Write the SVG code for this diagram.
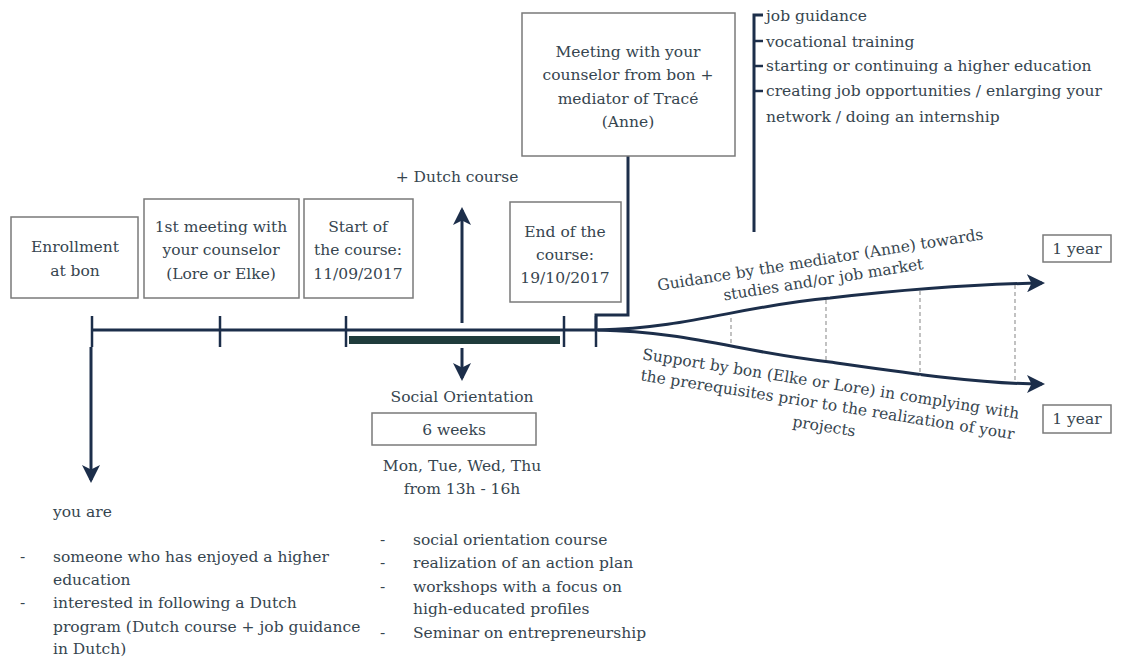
<svg xmlns="http://www.w3.org/2000/svg" width="1126" height="660" viewBox="0 0 1126 660">
<defs>
<style>
text{font-family:"DejaVu Serif","Liberation Serif",serif;font-size:15.5px;fill:#36454f}
.c{text-anchor:middle}
.box{fill:#fff;stroke:#7a7a7a;stroke-width:1.5}
.ln{fill:none;stroke:#1c2e4a;stroke-width:3}
.tk{stroke:#1c2e4a;stroke-width:2.5}
.dash{fill:none;stroke:#999;stroke-width:1.2;stroke-dasharray:4 3}
</style>
<marker id="ah" viewBox="0 0 12 12" refX="10" refY="6" markerWidth="6" markerHeight="6" orient="auto" markerUnits="strokeWidth">
<path d="M0,0 L12,6 L0,12 L3,6 Z" fill="#1c2e4a"/>
</marker>
</defs>
<rect width="1126" height="660" fill="#fff"/>

<g id="connectors">
<line class="ln" x1="92" y1="330" x2="598" y2="330"/>
<line class="tk" x1="92" y1="316" x2="92" y2="347"/>
<line class="tk" x1="220" y1="316" x2="220" y2="347"/>
<line class="tk" x1="346" y1="316" x2="346" y2="347"/>
<line class="tk" x1="564" y1="316" x2="564" y2="347"/>
<line class="tk" x1="596" y1="316" x2="596" y2="347"/>
<rect x="349" y="336" width="211" height="8" fill="#1f3c3c"/>
<line class="ln" x1="462" y1="323" x2="462" y2="210" marker-end="url(#ah)"/>
<line class="ln" x1="462" y1="348" x2="462" y2="378" marker-end="url(#ah)"/>
<line class="ln" x1="91" y1="347" x2="91" y2="480" marker-end="url(#ah)"/>
<path class="ln" d="M628 156 V315 H596 V330"/>
<path class="ln" d="M598 330 C690 328 740 306 830 298 C900 290 980 284 1042 283" marker-end="url(#ah)"/>
<path class="ln" d="M598 330 C690 332 740 352 830 362 C900 372 980 384 1042 384" marker-end="url(#ah)"/>
<line class="dash" x1="731" y1="318" x2="731" y2="343"/>
<line class="dash" x1="826" y1="300" x2="826" y2="360"/>
<line class="dash" x1="920" y1="291" x2="920" y2="376"/>
<line class="dash" x1="1015" y1="285" x2="1015" y2="383"/>
<path class="ln" d="M754 232 V15 H763"/>
<line class="tk" x1="754" y1="41" x2="763" y2="41"/>
<line class="tk" x1="754" y1="66" x2="763" y2="66"/>
<line class="tk" x1="754" y1="91" x2="763" y2="91"/>
</g>

<g id="n-enroll">
<rect class="box" x="11" y="217" width="127" height="81"/>
<text class="c" x="75" y="252">Enrollment</text>
<text class="c" x="75" y="276">at bon</text>
</g>
<g id="n-first">
<rect class="box" x="144" y="199" width="155" height="99"/>
<text class="c" x="221" y="232">1st meeting with</text>
<text class="c" x="221" y="255">your counselor</text>
<text class="c" x="221" y="279">(Lore or Elke)</text>
</g>
<g id="n-start">
<rect class="box" x="304" y="199" width="109" height="99"/>
<text class="c" x="358" y="232">Start of</text>
<text class="c" x="358" y="255">the course:</text>
<text class="c" x="358" y="279">11/09/2017</text>
</g>
<g id="n-end">
<rect class="box" x="510" y="202" width="111" height="100"/>
<text class="c" x="565" y="237">End of the</text>
<text class="c" x="565" y="260">course:</text>
<text class="c" x="565" y="283">19/10/2017</text>
</g>
<g id="n-meeting">
<rect class="box" x="522" y="13" width="213" height="143"/>
<text class="c" x="628" y="57">Meeting with your</text>
<text class="c" x="628" y="80">counselor from bon +</text>
<text class="c" x="628" y="104">mediator of Tracé</text>
<text class="c" x="628" y="127">(Anne)</text>
</g>
<g id="n-dutch">
<text class="c" x="457" y="182">+ Dutch course</text>
</g>
<g id="n-list">
<text x="766" y="21">job guidance</text>
<text x="766" y="47">vocational training</text>
<text x="766" y="71">starting or continuing a higher education</text>
<text x="766" y="96">creating job opportunities / enlarging your</text>
<text x="766" y="122">network / doing an internship</text>
</g>
<g id="n-guidance">
<g transform="translate(821,265) rotate(-9)">
<text class="c" x="0" y="0">Guidance by the mediator (Anne) towards</text>
<text class="c" x="0" y="20">studies and/or job market</text>
</g>
</g>
<g id="n-support">
<g transform="translate(830,389) rotate(9)">
<text class="c" x="0" y="0">Support by bon (Elke or Lore) in complying with</text>
<text class="c" x="0" y="21">the prerequisites prior to the realization of your</text>
<text class="c" x="0" y="43">projects</text>
</g>
</g>
<g id="n-year1">
<rect class="box" x="1043" y="235" width="68" height="27"/>
<text class="c" x="1077" y="254">1 year</text>
</g>
<g id="n-year2">
<rect class="box" x="1043" y="405" width="68" height="28"/>
<text class="c" x="1077" y="424">1 year</text>
</g>
<g id="n-social">
<text class="c" x="462" y="402">Social Orientation</text>
<rect class="box" x="372" y="413" width="164" height="32"/>
<text class="c" x="454" y="435">6 weeks</text>
<text class="c" x="462" y="471">Mon, Tue, Wed, Thu</text>
<text class="c" x="462" y="494">from 13h - 16h</text>
</g>
<g id="n-social-list">
<text x="380" y="545">-</text><text x="413" y="545">social orientation course</text>
<text x="380" y="568">-</text><text x="413" y="568">realization of an action plan</text>
<text x="380" y="592">-</text><text x="413" y="592">workshops with a focus on</text>
<text x="413" y="614">high-educated profiles</text>
<text x="380" y="638">-</text><text x="413" y="638">Seminar on entrepreneurship</text>
</g>
<g id="n-youare">
<text x="53" y="517">you are</text>
<text x="20" y="562">-</text><text x="53" y="562">someone who has enjoyed  a higher</text>
<text x="53" y="585">education</text>
<text x="20" y="608">-</text><text x="53" y="608">interested in following a Dutch</text>
<text x="53" y="632">program (Dutch course + job guidance</text>
<text x="53" y="654">in Dutch)</text>
</g>
</svg>
